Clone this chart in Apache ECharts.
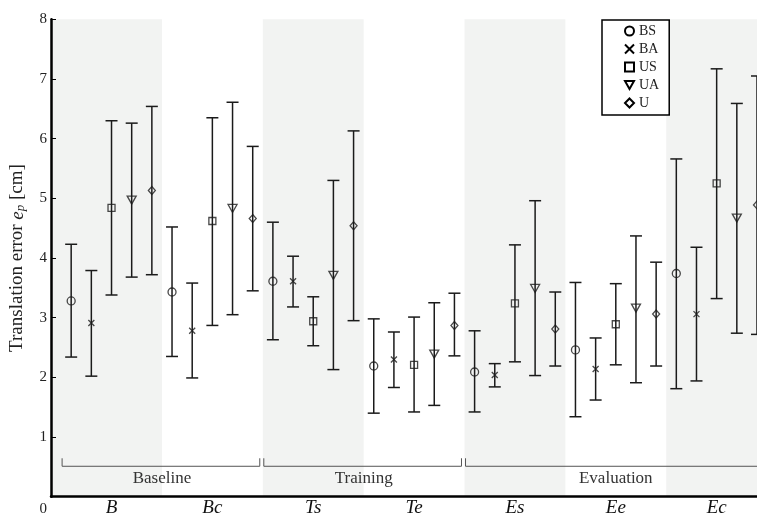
<!DOCTYPE html>
<html><head><meta charset="utf-8">
<script src="https://cdn.jsdelivr.net/npm/echarts@6/dist/echarts.min.js"></script>
<style>html,body{margin:0;padding:0;background:#fff}#c{width:757px;height:520px}</style>
</head><body><div id="c"></div>
<script>
// ---- data ----
const groups = ['B','Bc','Ts','Te','Es','Ee','Ec'];
const methods = ['BS','BA','US','UA','U'];
const meanBS = [3.28,3.43,3.61,2.19,2.09,2.46,3.74];
const lowBS  = [2.34,2.35,2.63,1.40,1.42,1.34,1.81];
const highBS = [4.23,4.52,4.60,2.98,2.78,3.59,5.66];
const meanBA = [2.91,2.78,3.61,2.30,2.04,2.14,3.06];
const lowBA  = [2.02,1.99,3.18,1.83,1.84,1.62,1.94];
const highBA = [3.79,3.58,4.03,2.76,2.23,2.66,4.18];
const meanUS = [4.84,4.62,2.94,2.21,3.24,2.89,5.25];
const lowUS  = [3.38,2.87,2.53,1.42,2.26,2.21,3.32];
const highUS = [6.30,6.35,3.35,3.01,4.22,3.57,7.17];
const meanUA = [4.97,4.83,3.71,2.39,3.49,3.16,4.67];
const lowUA  = [3.68,3.05,2.13,1.53,2.03,1.91,2.74];
const highUA = [6.26,6.61,5.30,3.25,4.96,4.37,6.59];
const meanU  = [5.13,4.66,4.54,2.87,2.81,3.06,4.89];
const lowU   = [3.72,3.45,2.95,2.36,2.19,2.19,2.72];
const highU  = [6.54,5.87,6.13,3.41,3.43,3.93,7.05];
const yTicks = [0,1,2,3,4,5,6,7,8];
const shadedGroups = ['B','Ts','Es','Ec'];
const phaseNames = ['Baseline','Training','Evaluation'];
const phaseFirst = ['B','Ts','Es'];
const phaseLast  = ['Bc','Te','Ec'];

// ---- build ----
const stats = {
  BS:[meanBS,lowBS,highBS], BA:[meanBA,lowBA,highBA], US:[meanUS,lowUS,highUS],
  UA:[meanUA,lowUA,highUA], U:[meanU,lowU,highU]
};
const FONT = 'Liberation Serif';
const X_MIN = 0.4, X_MAX = 7.4;
const sym = {
  BS:{symbol:'circle', size:8},
  BA:{symbol:'path://M0,0L10,10M10,0L0,10', size:6},
  US:{symbol:'rect', size:7},
  UA:{symbol:'path://M0,0L10,0L5,9Z', size:[9,8]},
  U:{symbol:'path://M5,0L10,5L5,10L0,5Z', size:[7,8]}
};
const pos = (gi, mi) => gi + 1 + (mi - 2) * 0.2;

function errRender(params, api){
  const x = api.value(0), lo = api.value(1), hi = api.value(2);
  const pLo = api.coord([x, lo]), pHi = api.coord([x, hi]);
  const hw = 6;
  const style = {stroke:'#1a1a1a', lineWidth:1.5, fill:null};
  return {type:'group', children:[
    {type:'line', shape:{x1:pLo[0],y1:pLo[1],x2:pHi[0],y2:pHi[1]}, style},
    {type:'line', shape:{x1:pHi[0]-hw,y1:pHi[1],x2:pHi[0]+hw,y2:pHi[1]}, style},
    {type:'line', shape:{x1:pLo[0]-hw,y1:pLo[1],x2:pLo[0]+hw,y2:pLo[1]}, style}
  ]};
}
function bandRender(params, api){
  const a = api.coord([api.value(0), 8]);
  const b = api.coord([api.value(1), 0]);
  return {type:'rect', shape:{x:a[0], y:a[1], width:b[0]-a[0], height:b[1]-a[1]}, style:{fill:'#f2f3f2'}};
}
function phaseRender(params, api){
  const a = api.value(0), b = api.value(1), m = api.value(2);
  const pA = api.coord([a, 0.51]), pB = api.coord([b, 0.51]);
  const t = 8;
  return {type:'group', children:[
    {type:'polyline', shape:{points:[[pA[0],pA[1]-t],[pA[0],pA[1]],[pB[0],pB[1]],[pB[0],pB[1]-t]]},
      style:{stroke:'#555', lineWidth:1, fill:null}},
    {type:'text', x:api.coord([m,0])[0], y:pA[1]+12,
      style:{text:phaseNames[params.dataIndex], fontFamily:FONT, fontSize:17, fill:'#333', align:'center', verticalAlign:'middle'}}
  ]};
}

const series = [];
series.push({
  type:'custom', name:'bands', z:0, silent:true, renderItem:bandRender,
  encode:{x:[0,1]},
  data: shadedGroups.map(g => {
    const i = groups.indexOf(g) + 1;
    return [i === 1 ? X_MIN : i - 0.5, Math.min(X_MAX, i + 0.5)];
  })
});
series.push({
  type:'custom', name:'phases', z:1, silent:true, renderItem:phaseRender,
  encode:{x:[0,1]},
  data: phaseNames.map((p, k) => {
    const f = groups.indexOf(phaseFirst[k]) + 1, l = groups.indexOf(phaseLast[k]) + 1;
    return [f - 0.49, l + 0.47, (f + l) / 2];
  })
});
methods.forEach((m, mi) => {
  const [mean, lo, hi] = stats[m];
  series.push({
    type:'custom', name:m, z:2, renderItem:errRender, encode:{x:0, y:[1,2]},
    data: groups.map((g, gi) => [pos(gi, mi), lo[gi], hi[gi]])
  });
  series.push({
    type:'scatter', name:m, z:3, symbol:sym[m].symbol, symbolSize:sym[m].size,
    itemStyle:{color:'rgba(0,0,0,0)', borderColor:'#1a1a1a', borderWidth:1.3},
    data: groups.map((g, gi) => [pos(gi, mi), mean[gi]])
  });
});

const chart = echarts.init(document.getElementById('c'), null, {renderer:'canvas'});
chart.setOption({
  animation:false,
  backgroundColor:'#fff',
  grid:{left:50, right:0, top:19.3, bottom:23.3},
  legend:{
    orient:'vertical', left:602, top:20, padding:[4,10,5,22], itemGap:4,
    itemWidth:9, itemHeight:9, borderColor:'#000', borderWidth:1.5, backgroundColor:'#fff',
    textStyle:{fontFamily:FONT, fontSize:14, color:'#222'},
    data: methods.map(m => ({name:m, icon:sym[m].symbol,
      itemStyle:{color:'rgba(0,0,0,0)', borderColor:'#000', borderWidth:2}}))
  },
  xAxis:{
    type:'value', min:X_MIN, max:X_MAX,
    axisLine:{show:true, onZero:false, lineStyle:{color:'#000', width:2.5}},
    axisTick:{show:false}, splitLine:{show:false},
    axisLabel:{customValues:groups.map((g,i)=>i+1), formatter:v => groups[Math.round(v)-1],
      fontStyle:'italic', fontFamily:FONT, fontSize:19, color:'#111', margin:2}
  },
  yAxis:{
    type:'value', min:yTicks[0], max:yTicks[yTicks.length-1], interval:1,
    axisLine:{show:true, lineStyle:{color:'#000', width:2.5}},
    axisTick:{show:true, inside:true, length:5, lineStyle:{color:'#000', width:1}},
    splitLine:{show:false},
    axisLabel:{color:'#222', fontFamily:FONT, fontSize:15, margin:4,
      formatter: v => v === 0 ? '{z|0}' : String(v),
      rich:{z:{padding:[24,0,0,0], fontFamily:FONT, fontSize:15, color:'#222'}}},
    name:'Translation error {i|e}{s|p} [cm]', nameLocation:'middle', nameGap:24, nameRotate:90,
    nameTextStyle:{fontFamily:FONT, fontSize:19, color:'#222',
      rich:{i:{fontStyle:'italic', fontFamily:FONT, fontSize:19, color:'#222'},
            s:{fontStyle:'italic', fontFamily:FONT, fontSize:13, color:'#222', verticalAlign:'bottom', lineHeight:13}}}
  },
  series
});
</script></body></html>
